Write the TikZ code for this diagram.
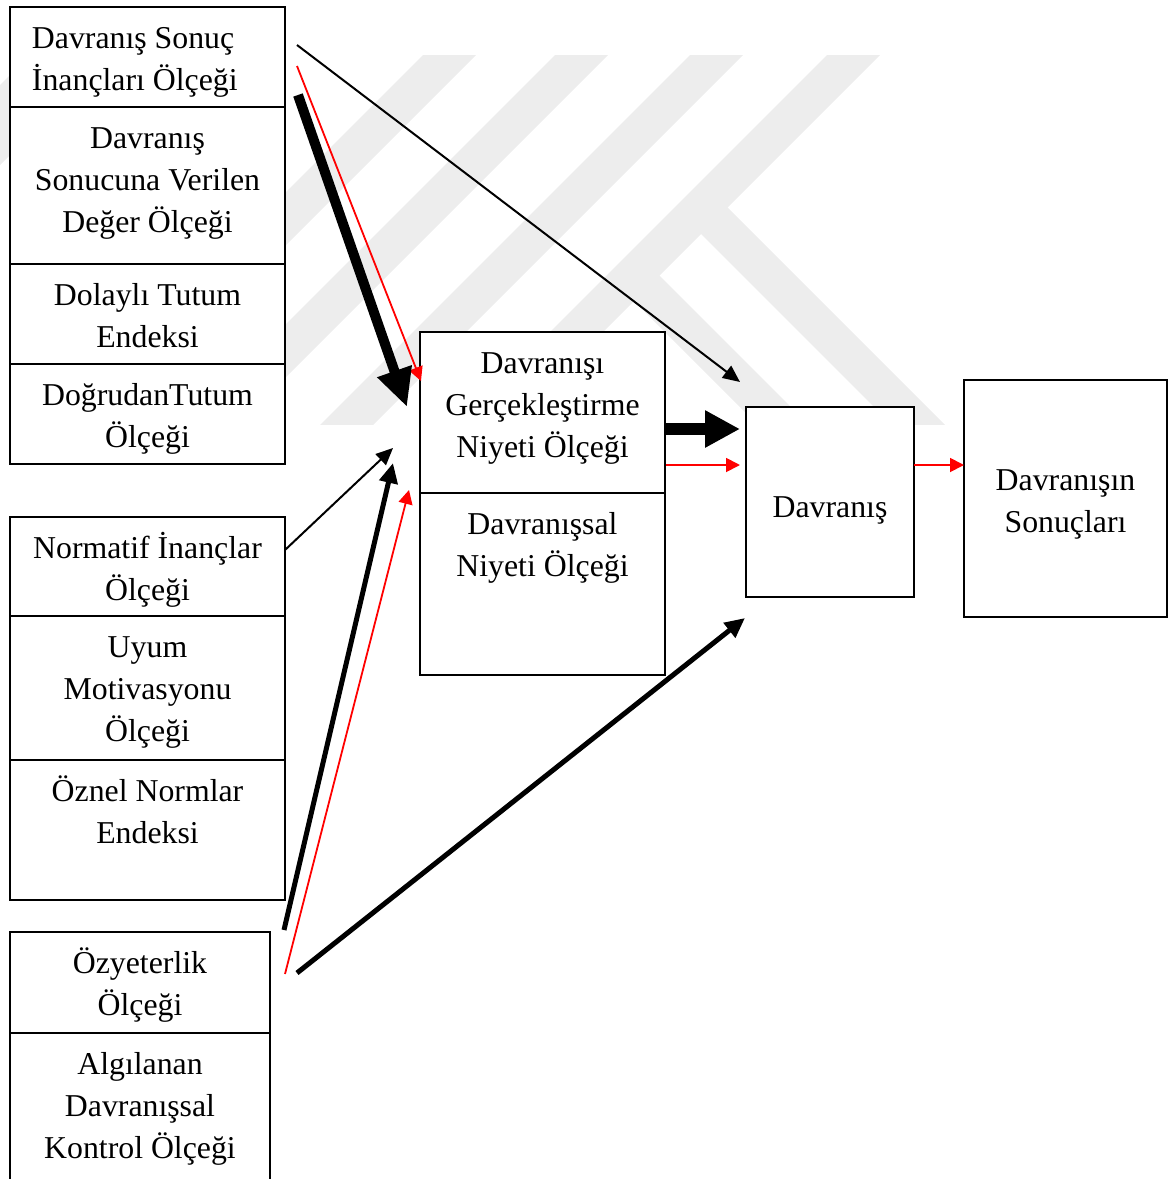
\documentclass[tikz,border=0pt]{standalone}
\usepackage{fontspec}
\setmainfont{Liberation Serif}
\usetikzlibrary{arrows.meta}
\definecolor{wmgray}{RGB}{237,237,237}
\definecolor{pathred}{RGB}{255,0,0}
% table cell: width, height, alignment, first-baseline strut, text
\newcommand\cellbox[5]{\parbox[t][#2][t]{#1}{#3\rule{0pt}{#4}#5}}
\begin{document}
\begin{tikzpicture}[x=0.5pt,y=-0.5pt,
  cell/.style={draw, line width=1pt, fill=white, inner sep=0pt, outer sep=0pt,
    anchor=north west, font=\fontsize{15.9pt}{21pt}\selectfont},
  thinarr/.style={line width=1pt, -{Triangle[length=8.5pt,width=7.5pt]}},
  redarr/.style={pathred, line width=0.9pt, -{Triangle[length=7pt,width=7pt]}},
  midarr/.style={line width=2.5pt, -{Triangle[length=10pt,width=9pt]}},
  bigarr/.style={line width=5pt, -{Triangle[length=19pt,width=17pt]}},
  hugearr/.style={line width=6pt, -{Triangle[length=17.5pt,width=17.5pt]}}]
\useasboundingbox (0,0) rectangle (1176,1179);
\clip (0,0) rectangle (1176,1179);

% faint background emblem
\begin{scope}
  \clip (0,55) rectangle (1176,424);
  \foreach \a/\b in {85/165, 478/531, 610/663, 745/798, 882/935}
    \fill[wmgray] (\a,0) -- (\b,0) -- (\b-480,480) -- (\a-480,480) -- cycle;
  \fill[wmgray] (722.5,202.5) -- (1000,480) -- (947,480) -- (696,229) -- cycle;
  \fill[wmgray] (654.5,270.5) -- (864,480) -- (813,480) -- (629,296) -- cycle;
\end{scope}

% attitude block
\node[cell] (inanc) at (10,7) {\cellbox{137.5pt}{50pt}{\raggedright\leftskip=11pt}{20.5pt}{Davranış Sonuç\\İnançları Ölçeği}};
\node[cell] (deger) at (10,107) {\cellbox{137.5pt}{78.5pt}{\centering}{20.5pt}{Davranış\\Sonucuna Verilen\\Değer Ölçeği}};
\node[cell] (dolayli) at (10,264) {\cellbox{137.5pt}{50pt}{\centering}{20.5pt}{Dolaylı Tutum\\Endeksi}};
\node[cell] (dogrudan) at (10,364) {\cellbox{137.5pt}{50pt}{\centering}{20.5pt}{DoğrudanTutum\\Ölçeği}};

% subjective norm block
\node[cell] (normatif) at (10,517) {\cellbox{137.5pt}{49.5pt}{\centering}{20.5pt}{Normatif İnançlar\\Ölçeği}};
\node[cell] (uyum) at (10,616) {\cellbox{137.5pt}{72pt}{\centering}{20.5pt}{Uyum\\Motivasyonu\\Ölçeği}};
\node[cell] (oznel) at (10,760) {\cellbox{137.5pt}{70pt}{\centering}{20.5pt}{Öznel Normlar\\Endeksi}};

% perceived control block
\node[cell] (ozyet) at (10,932) {\cellbox{130pt}{50.5pt}{\centering}{20.5pt}{Özyeterlik\\Ölçeği}};
\node[cell] (algi) at (10,1033) {\cellbox{130pt}{80pt}{\centering}{20.5pt}{Algılanan\\Davranışsal\\Kontrol Ölçeği}};

% intention block
\node[cell] (niyet) at (420,332) {\cellbox{122.5pt}{80.5pt}{\centering}{20.5pt}{Davranışı\\Gerçekleştirme\\Niyeti Ölçeği}};
\node[cell] (dniyet) at (420,493) {\cellbox{122.5pt}{91pt}{\centering}{20.5pt}{Davranışsal\\Niyeti Ölçeği}};

% behaviour and outcomes
\node[cell] (davranis) at (746,407) {\cellbox{84pt}{95pt}{\centering}{55pt}{Davranış}};
\node[cell] (sonuc) at (964,380) {\cellbox{101.5pt}{118.5pt}{\centering}{55pt}{Davranışın\\Sonuçları}};

% connector end points
\coordinate (inancA) at (297,45);   \coordinate (davranisTop) at (740,382);
\coordinate (inancB) at (297,66);   \coordinate (niyetRed) at (421,381);
\coordinate (inancC) at (298,95);   \coordinate (niyetBig) at (407,407);
\coordinate (normOut) at (285,550); \coordinate (niyetThin) at (393,448);
\coordinate (ozA) at (284,930);     \coordinate (niyetMid) at (393,463);
\coordinate (ozB) at (285,974);     \coordinate (niyetLow) at (409,490);
\coordinate (ozC) at (297,973);     \coordinate (davranisLow) at (745,618);
\coordinate (niyetOutA) at (665,429); \coordinate (davranisInA) at (740,429);
\coordinate (niyetOutB) at (666,465); \coordinate (davranisInB) at (740,465);
\coordinate (davranisOut) at (914,465); \coordinate (sonucIn) at (964,465);

% connectors
\draw[thinarr] (inancA) -- (davranisTop);
\draw[redarr] (inancB) -- (niyetRed);
\draw[bigarr] (inancC) -- (niyetBig);
\draw[thinarr] (normOut) -- (niyetThin);
\draw[midarr] (ozA) -- (niyetMid);
\draw[redarr] (ozB) -- (niyetLow);
\draw[midarr] (ozC) -- (davranisLow);
\draw[hugearr] (niyetOutA) -- (davranisInA);
\draw[redarr] (niyetOutB) -- (davranisInB);
\draw[redarr] (davranisOut) -- (sonucIn);
\end{tikzpicture}
\end{document}
